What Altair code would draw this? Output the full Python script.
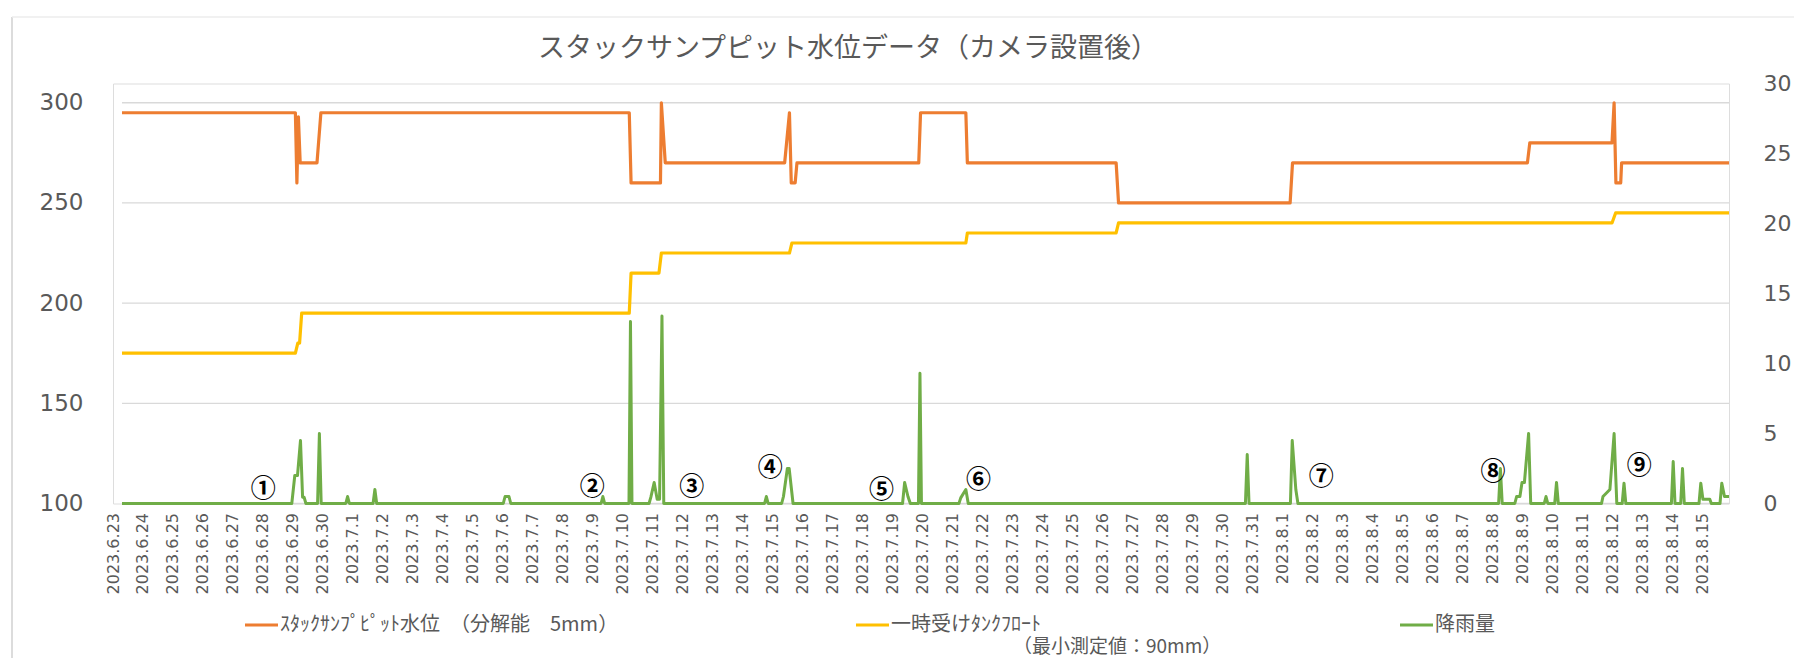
import json
import pandas as pd
import altair as alt

# ---------------- data ----------------
title_text = "スタックサンプピット水位データ（カメラ設置後）"

date_labels = [
    "2023.6.23", "2023.6.24", "2023.6.25", "2023.6.26", "2023.6.27", "2023.6.28",
    "2023.6.29", "2023.6.30", "2023.7.1", "2023.7.2", "2023.7.3", "2023.7.4",
    "2023.7.5", "2023.7.6", "2023.7.7", "2023.7.8", "2023.7.9", "2023.7.10",
    "2023.7.11", "2023.7.12", "2023.7.13", "2023.7.14", "2023.7.15", "2023.7.16",
    "2023.7.17", "2023.7.18", "2023.7.19", "2023.7.20", "2023.7.21", "2023.7.22",
    "2023.7.23", "2023.7.24", "2023.7.25", "2023.7.26", "2023.7.27", "2023.7.28",
    "2023.7.29", "2023.7.30", "2023.7.31", "2023.8.1", "2023.8.2", "2023.8.3",
    "2023.8.4", "2023.8.5", "2023.8.6", "2023.8.7", "2023.8.8", "2023.8.9",
    "2023.8.10", "2023.8.11", "2023.8.12", "2023.8.13", "2023.8.14", "2023.8.15",
]
label_pos = list(range(len(date_labels)))

left_ticks = [100, 150, 200, 250, 300]
right_ticks = [0, 5, 10, 15, 20, 25, 30]

# stack sump pit water level (left axis), x in days from 2023.6.23
orange_day = [0.30, 6.08, 6.13, 6.18, 6.24, 6.80, 6.93, 17.21, 17.27, 18.25, 18.28,
              18.41, 22.39, 22.55, 22.61, 22.74, 22.80, 26.86, 26.92, 28.43, 28.48,
              33.44, 33.52, 39.24, 39.32, 47.15, 47.23, 49.97, 50.04, 50.10, 50.26,
              50.29, 53.87]
orange_val = [295, 295, 260, 293, 270, 270, 295, 295, 260, 260, 300,
              270, 270, 295, 260, 260, 270, 270, 295, 295, 270,
              270, 250, 250, 270, 270, 280, 280, 300, 260, 260,
              270, 270]

# temporary receiving tank float (left axis)
yellow_day = [0.30, 6.08, 6.16, 6.22, 6.29, 17.21, 17.27, 18.20, 18.28, 22.55, 22.63,
              28.43, 28.48, 33.44, 33.52, 49.97, 50.09, 53.87]
yellow_val = [175, 175, 180, 180, 195, 195, 215, 215, 225, 225, 230,
              230, 235, 235, 240, 240, 245, 245]

# rainfall (right axis)
rain_day = [0.30, 5.96, 6.06, 6.15, 6.25, 6.32, 6.37, 6.43,
            6.82, 6.88, 6.94,
            7.76, 7.82, 7.88,
            8.67, 8.73, 8.79,
            13.01, 13.07, 13.20, 13.26,
            16.27, 16.33, 16.39,
            17.20, 17.25, 17.30,
            17.87, 17.93, 18.04, 18.14, 18.22, 18.30, 18.36,
            21.72, 21.78, 21.84,
            22.29, 22.35, 22.48, 22.54, 22.67,
            26.32, 26.39, 26.50, 26.58,
            26.85, 26.90, 26.95,
            28.20, 28.26, 28.43, 28.51,
            37.75, 37.81, 37.87,
            39.25, 39.31, 39.43, 39.50,
            46.19, 46.25, 46.31,
            46.73, 46.79, 46.90, 46.97, 47.05, 47.19, 47.26,
            47.71, 47.77, 47.83,
            48.06, 48.12, 48.18,
            49.62, 49.67, 49.90, 50.04, 50.13, 50.31, 50.37, 50.43,
            51.95, 52.01, 52.07,
            52.26, 52.32, 52.38,
            52.87, 52.93, 53.00, 53.23, 53.28,
            53.57, 53.63, 53.72, 53.87]
rain_val = [0, 0, 2.0, 2.0, 4.5, 0.45, 0.45, 0,
            0, 5.0, 0,
            0, 0.5, 0,
            0, 1.0, 0,
            0, 0.5, 0.5, 0,
            0, 0.5, 0,
            0, 13.0, 0,
            0, 0.45, 1.5, 0.3, 0.3, 13.4, 0,
            0, 0.5, 0,
            0, 0.5, 2.5, 2.5, 0,
            0, 1.5, 0.5, 0,
            0, 9.3, 0,
            0, 0.4, 1.0, 0,
            0, 3.5, 0,
            0, 4.5, 1.0, 0,
            0, 2.5, 0,
            0, 0.5, 0.5, 1.5, 1.5, 5.0, 0,
            0, 0.5, 0,
            0, 1.5, 0,
            0, 0.5, 1.0, 5.0, 0, 0, 1.45, 0,
            0, 3.0, 0,
            0, 2.5, 0,
            0, 1.45, 0.3, 0.3, 0,
            0, 1.45, 0.5, 0.5]

ann_text = ["①", "②", "③", "④", "⑤", "⑥", "⑦", "⑧", "⑨"]
ann_day = [5.01, 15.98, 19.29, 21.91, 25.62, 28.85, 40.28, 46.00, 50.88]
ann_val = [1.05, 1.16, 1.16, 2.55, 0.93, 1.69, 1.88, 2.24, 2.71]

series_names = ["ｽﾀｯｸｻﾝﾌﾟﾋﾟｯﾄ水位　（分解能　5mm）", "一時受けﾀﾝｸﾌﾛｰﾄ", "降雨量"]
series_colors = ["#ED7D31", "#FFC000", "#70AD47"]
note_text = "（最小測定値：90mm）"

# ---------------- chart ----------------
GRAY = "#595959"
W, H = 1616, 420

x_enc = alt.X(
    "day:Q",
    scale=alt.Scale(domain=[0, orange_day[-1]], nice=False, zero=False),
    axis=alt.Axis(
        values=label_pos,
        labelExpr=json.dumps(date_labels) + "[datum.value]",
        labelAngle=270, labelFont="DejaVu Sans", labelFontSize=16,
        labelColor=GRAY, labelPadding=9, ticks=False, tickSize=0,
        domain=False, grid=False, title=None, labelOverlap=False,
        labelFlush=False, labelBound=False,
    ),
)

y_left = alt.Y(
    "v:Q",
    scale=alt.Scale(domain=[100, 309.6], nice=False, zero=False),
    axis=alt.Axis(values=left_ticks, labelFont="DejaVu Sans", labelFontSize=23,
                  labelColor=GRAY, labelPadding=30, ticks=False, tickSize=0,
                  domain=False, grid=False, title=None),
)

y_right = alt.Y(
    "v:Q",
    scale=alt.Scale(domain=[0, 30], nice=False, zero=False),
    axis=alt.Axis(orient="right", values=right_ticks, labelFont="DejaVu Sans",
                  labelFontSize=22, labelColor=GRAY, labelPadding=34,
                  ticks=False, tickSize=0, domain=False, grid=False, title=None),
)

grid_df = pd.DataFrame({"v": left_ticks, "day": orange_day[0], "day2": orange_day[-1]})
orange_df = pd.DataFrame({"day": orange_day, "v": orange_val, "i": range(len(orange_day))})
yellow_df = pd.DataFrame({"day": yellow_day, "v": yellow_val, "i": range(len(yellow_day))})
rain_df = pd.DataFrame({"day": rain_day, "v": rain_val, "i": range(len(rain_day))})
ann_df = pd.DataFrame({"day": ann_day, "v": ann_val, "t": ann_text})

grid = alt.Chart(grid_df).mark_rule(color="#d9d9d9", strokeWidth=1.3).encode(
    x=x_enc, x2="day2:Q", y=y_left)
orange = alt.Chart(orange_df).mark_line(color=series_colors[0], strokeWidth=3.2,
                                        strokeJoin="round").encode(x=x_enc, y=y_left, order="i:Q")
yellow = alt.Chart(yellow_df).mark_line(color=series_colors[1], strokeWidth=3.2,
                                        strokeJoin="round").encode(x=x_enc, y=y_left, order="i:Q")
green = alt.Chart(rain_df).mark_line(color=series_colors[2], strokeWidth=3,
                                     strokeJoin="round").encode(x=x_enc, y=y_right, order="i:Q")
ann = alt.Chart(ann_df).mark_text(font="Noto Sans CJK JP", fontSize=25, fontWeight="bold",
                                  color="black", align="center", baseline="middle").encode(
    x=x_enc, y=y_right, text="t:N")

left = alt.layer(grid, orange, yellow)
right = alt.layer(green, ann)

one = pd.DataFrame({"k": [0]})

title_mark = alt.Chart(pd.DataFrame({"t": [title_text]})).mark_text(
    font="Noto Sans CJK JP", fontSize=27, color=GRAY, align="center", baseline="middle"
).encode(text="t:N", x=alt.value(735), y=alt.value(-34.5))

border_left = alt.Chart(one).mark_rule(color="#d0d0d0", strokeWidth=1.5).encode(
    x=alt.value(-101), y=alt.value(-66.5), y2=alt.value(600))
border_top = alt.Chart(one).mark_rule(color="#ececec", strokeWidth=1.5).encode(
    x=alt.value(-101), x2=alt.value(1700), y=alt.value(-66.5))

legend_layers = []
leg_sym_x = [132, 743, 1287]
for name, col, sx in zip(series_names, series_colors, leg_sym_x):
    legend_layers.append(
        alt.Chart(one).mark_rule(color=col, strokeWidth=3).encode(
            x=alt.value(sx), x2=alt.value(sx + 33), y=alt.value(541.5)))
    legend_layers.append(
        alt.Chart(pd.DataFrame({"t": [name]})).mark_text(
            font="Noto Sans CJK JP", fontSize=20, color=GRAY, align="left", baseline="middle"
        ).encode(text="t:N", x=alt.value(sx + 35), y=alt.value(541.5)))
legend_layers.append(
    alt.Chart(pd.DataFrame({"t": [note_text]})).mark_text(
        font="Noto Sans CJK JP", fontSize=19, color=GRAY, align="left", baseline="middle"
    ).encode(text="t:N", x=alt.value(900), y=alt.value(563.5)))

chart = alt.layer(left, right, title_mark, border_left, border_top, *legend_layers).resolve_scale(
    y="independent"
).properties(
    width=W, height=H,
    autosize=alt.AutoSizeParams(type="none"),
    padding={"left": 105, "top": 75.5, "right": 65, "bottom": 154},
).configure_view(stroke=None).configure(background="white")

chart.save("out.html", embed_options={"renderer": "svg", "actions": False})
